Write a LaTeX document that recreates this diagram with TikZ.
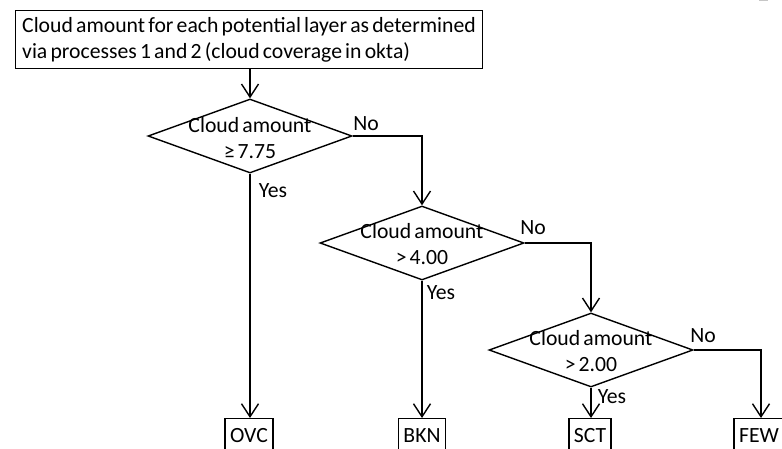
\documentclass[tikz,border=0pt]{standalone}
\usepackage{fontspec}
\setmainfont[WordSpace=0.65]{Carlito}
\usetikzlibrary{shapes.geometric,arrows.meta}

\tikzset{
  flow/.style={line width=1.4pt},
  arr/.style={flow,-{Straight Barb[length=13pt,width=17pt]}},
  startbox/.style={draw,line width=1.4pt,anchor=north west,
    minimum height=58pt,align=left,inner xsep=6.5pt,inner ysep=2pt},
  decision/.style={draw,line width=1.4pt,shape=diamond,minimum width=204pt,
    minimum height=74pt,inner sep=0pt},
  dtext/.style={align=center,inner sep=0pt},
  outbox/.style={draw,line width=1.4pt,anchor=north,minimum height=34pt,
    inner xsep=5pt,inner ysep=2pt,text depth=0pt},
  branch/.style={inner sep=0pt}
}

\begin{document}
\begin{tikzpicture}[x=1pt,y=-1pt,font=\fontsize{21.7}{26}\selectfont]
  \useasboundingbox (0,0) rectangle (782,448);
  \clip (0,0) rectangle (782,448);
  \fill[white] (0,0) rectangle (782,448);

  % input description
  \node[startbox] (start) at (15,10)
    {Cloud amount for each potential layer as determined\\
     via processes 1 and 2 (cloud coverage in okta)};

  % decision diamonds
  \node[decision] (d1) at (250,136) {};
  \node[dtext] (t1) at (250,138) {Cloud amount\\\char"2265\ 7.75};
  \node[decision] (d2) at (422,243) {};
  \node[dtext] (t2) at (422,244) {Cloud amount\\>\ 4.00};
  \node[decision] (d3) at (591,350) {};
  \node[dtext] (t3) at (591,351) {Cloud amount\\>\ 2.00};

  % cloud cover categories
  \node[outbox] (ovc) at (249,418) {OVC};
  \node[outbox] (bkn) at (422,418) {BKN};
  \node[outbox] (sct) at (590,418) {SCT};
  \node[outbox] (few) at (759,418) {FEW};

  % connectors
  \draw[arr] (start.south -| d1.north) -- (d1.north);
  \draw[arr] (d1.south) -- (ovc.north -| d1.south);
  \draw[arr] (d1.east) -| (d2.north);
  \draw[arr] (d2.south) -- (bkn.north -| d2.south);
  \draw[arr] (d2.east) -| (d3.north);
  \draw[arr] (d3.south) -- (sct.north -| d3.south);
  \coordinate (fewtop) at (761,418);
  \draw[arr] (d3.east) -| (fewtop);

  % branch labels
  \node[branch] (no1) at (366,124) {No};
  \node[branch] (yes1) at (273,191) {Yes};
  \node[branch] (no2) at (533,228) {No};
  \node[branch] (yes2) at (441,293) {Yes};
  \node[branch] (no3) at (703,336) {No};
  \node[branch] (yes3) at (612,397) {Yes};

  % small grey stroke at the upper right edge
  \draw[gray!45,line width=1.2pt] (759,0.6) -- (768,0.6);
\end{tikzpicture}
\end{document}
